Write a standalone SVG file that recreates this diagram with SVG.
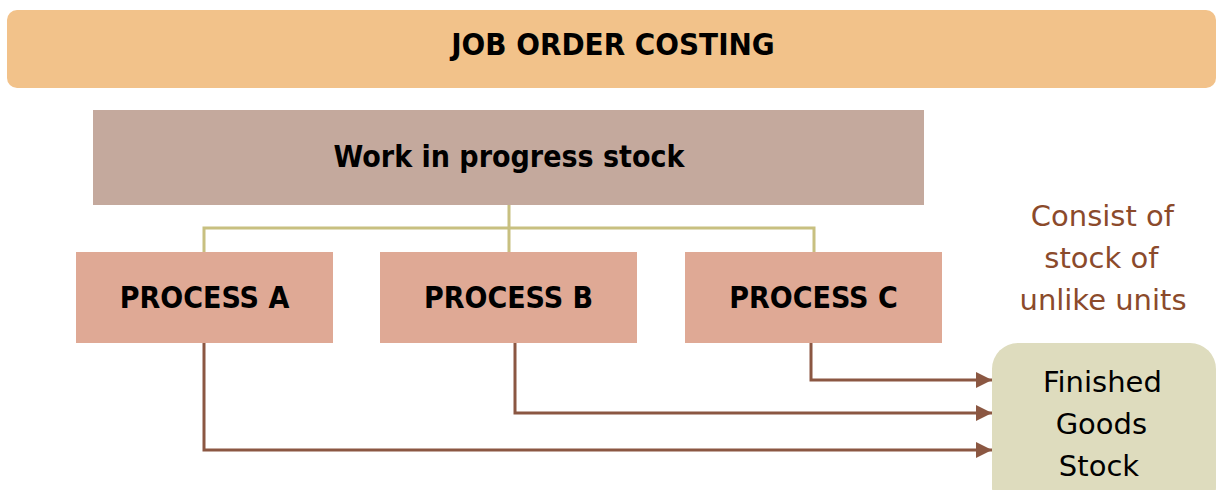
<svg xmlns="http://www.w3.org/2000/svg" width="1217" height="490" viewBox="0 0 1217 490">
  <defs>
    <marker id="arrow" viewBox="0 0 16 16" markerWidth="16" markerHeight="16" refX="16" refY="8" orient="auto" markerUnits="userSpaceOnUse">
      <path d="M0,0 L16,8 L0,16 Z" fill="#8b5742"/>
    </marker>
    <style>
      .bold { font-family: "DejaVu Sans Condensed", "DejaVu Sans", Verdana, sans-serif; font-weight: bold; fill: #000; text-anchor: middle; }
      .plain { font-family: "DejaVu Sans", Verdana, sans-serif; font-size: 29px; text-anchor: middle; }
      .tree { fill: none; stroke: #c8c080; stroke-width: 3; }
      .flow { fill: none; stroke: #8b5742; stroke-width: 3; }
      .proc { fill: #dfa995; }
    </style>
  </defs>

  <!-- title banner -->
  <g id="title">
    <rect x="7" y="10" width="1209" height="78" rx="10" fill="#f2c28a"/>
    <text class="bold" x="613" y="55" font-size="31">JOB ORDER COSTING</text>
  </g>

  <!-- work in progress -->
  <g id="wip">
    <rect x="93" y="110" width="831" height="95" fill="#c4a99d"/>
    <text class="bold" x="509" y="167" font-size="30">Work in progress stock</text>
  </g>

  <!-- processes -->
  <g id="processA">
    <rect class="proc" x="76" y="252" width="257" height="91"/>
    <text class="bold" x="204.5" y="308" font-size="30">PROCESS A</text>
  </g>
  <g id="processB">
    <rect class="proc" x="380" y="252" width="257" height="91"/>
    <text class="bold" x="508.5" y="308" font-size="30">PROCESS B</text>
  </g>
  <g id="processC">
    <rect class="proc" x="685" y="252" width="257" height="91"/>
    <text class="bold" x="813.5" y="308" font-size="30">PROCESS C</text>
  </g>

  <!-- finished goods -->
  <g id="finished">
    <rect x="992" y="343" width="224" height="170" rx="26" fill="#dedcbe"/>
    <text class="plain" fill="#000">
      <tspan x="1107" y="392">Finished</tspan>
      <tspan x="1106" y="434">Goods</tspan>
      <tspan x="1099" y="476">Stock</tspan>
    </text>
  </g>

  <!-- note -->
  <g id="note">
    <text class="plain" fill="#8b4a2b">
      <tspan x="1107" y="226">Consist of</tspan>
      <tspan x="1106" y="268">stock of</tspan>
      <tspan x="1103" y="310">unlike units</tspan>
    </text>
  </g>

  <!-- connectors -->
  <g id="connectors">
    <path class="tree" d="M509,205 V252 M204,252 V228 H814 V252"/>
    <path class="flow" d="M204,343 V450 H992" marker-end="url(#arrow)"/>
    <path class="flow" d="M515,343 V413 H992" marker-end="url(#arrow)"/>
    <path class="flow" d="M811,343 V380 H992" marker-end="url(#arrow)"/>
  </g>
</svg>
